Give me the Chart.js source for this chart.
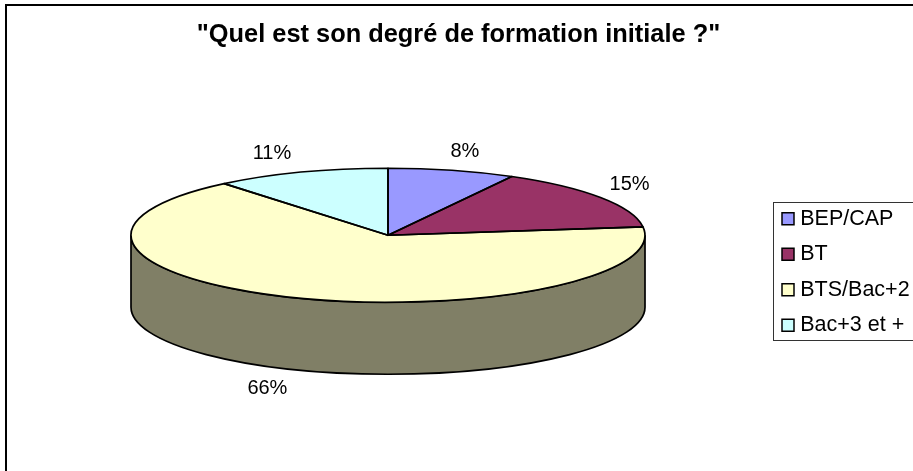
<!DOCTYPE html>
<html>
<head>
<meta charset="utf-8">
<style>
  html, body { margin: 0; padding: 0; background: #fff; overflow: hidden; }
  canvas { display: block; }
</style>
<script src="https://cdn.jsdelivr.net/npm/chart.js@4"></script>
</head>
<body>
<canvas id="myChart" width="913" height="471"></canvas>
<script>
const chartTitle = '"Quel est son degré de formation initiale ?"';
const categories = ["BEP/CAP", "BT", "BTS/Bac+2", "Bac+3 et +"];
const values = [8, 15, 66, 11];
const percentLabels = ["8%", "15%", "66%", "11%"];
const sliceColors = ["#9999FF", "#993366", "#FFFFCC", "#CCFFFF"];
const sideColors = ["#4D4D80", "#4D1A33", "#807F66", "#668080"];

// flattening of the pie and height of its wall
const tilt = 67 / 257;
const depth = 72;
// label nudges from the rim, in slice order
const labelNudge = [[13, -19], [29, -13], [-26, 91], [-29, -19]];

const fontFamily = '"Liberation Sans", Arial, sans-serif';
Chart.defaults.font.family = fontFamily;
Chart.defaults.color = "#000";

const pie3d = {
  id: "pie3d",
  beforeDraw(chart) {
    const ctx = chart.ctx;
    ctx.save();
    ctx.fillStyle = "#fff";
    ctx.fillRect(0, 0, chart.width, chart.height);
    ctx.strokeStyle = "#000";
    ctx.lineWidth = 2;
    ctx.strokeRect(6, 5, chart.width + 20, chart.height + 20);
    ctx.lineWidth = 1;
    ctx.strokeStyle = "#333";
    ctx.strokeRect(773.5, 202.5, 200, 138);
    ctx.restore();
  },
  afterLayout(chart) {
    // legend box sits lower than the chart middle
    const legend = chart.legend;
    const w = legend.width;
    const h = legend.height;
    legend.left = 772.5;
    legend.right = legend.left + w;
    legend.top = 194;
    legend.bottom = legend.top + h;
    // title is centred on the whole frame, not on the pie
    chart.titleBlock.left = 0;
    chart.titleBlock.right = 917;
  },
  beforeDatasetsDraw(chart) {
    const ctx = chart.ctx;
    const arcs = chart.getDatasetMeta(0).data;
    // wall first, only the front half of the rim shows
    arcs.forEach((arc, i) => {
      const from = Math.max(arc.startAngle, 0);
      const to = Math.min(arc.endAngle, Math.PI);
      if (to <= from) return;
      const r = arc.outerRadius;
      ctx.save();
      ctx.beginPath();
      ctx.ellipse(arc.x, arc.y, r, r * tilt, 0, from, to);
      ctx.ellipse(arc.x, arc.y + depth, r, r * tilt, 0, to, from, true);
      ctx.closePath();
      ctx.fillStyle = sideColors[i];
      ctx.fill();
      ctx.strokeStyle = "#000";
      ctx.lineWidth = 1.7;
      ctx.stroke();
      ctx.restore();
    });
    const first = arcs[0];
    ctx.save();
    ctx.translate(first.x, first.y);
    ctx.scale(1, tilt);
    ctx.translate(-first.x, -first.y);
  },
  afterDatasetsDraw(chart) {
    const ctx = chart.ctx;
    ctx.restore();
    const arcs = chart.getDatasetMeta(0).data;
    arcs.forEach((arc, i) => {
      const r = arc.outerRadius;
      ctx.save();
      ctx.beginPath();
      ctx.moveTo(arc.x, arc.y);
      ctx.ellipse(arc.x, arc.y, r, r * tilt, 0, arc.startAngle, arc.endAngle);
      ctx.closePath();
      ctx.strokeStyle = "#000";
      ctx.lineWidth = 1.7;
      ctx.lineJoin = "round";
      ctx.stroke();
      ctx.restore();

      const mid = (arc.startAngle + arc.endAngle) / 2;
      const x = arc.x + r * Math.cos(mid) + labelNudge[i][0];
      const y = arc.y + r * tilt * Math.sin(mid) + labelNudge[i][1];
      ctx.save();
      ctx.fillStyle = "#000";
      ctx.font = "20px " + fontFamily;
      ctx.textAlign = "center";
      ctx.textBaseline = "middle";
      ctx.fillText(percentLabels[i], x, y);
      ctx.restore();
    });
  },
};

const defaultLabels = Chart.overrides.pie.plugins.legend.labels.generateLabels;

new Chart(document.getElementById("myChart").getContext("2d"), {
  type: "pie",
  data: {
    labels: categories,
    datasets: [
      {
        data: values,
        backgroundColor: sliceColors,
        borderWidth: 0,
      },
    ],
  },
  options: {
    responsive: false,
    animation: false,
    radius: 257,
    layout: {
      padding: { left: 0, right: 137, top: 0, bottom: 73 },
    },
    plugins: {
      title: {
        display: true,
        text: chartTitle,
        color: "#000",
        font: { size: 25.4, weight: "bold" },
        padding: { top: 20, bottom: 22 },
      },
      legend: {
        position: "chartArea",
        align: "start",
        labels: {
          // narrow layout box keeps the text close to the swatch
          usePointStyle: true,
          pointStyle: "rect",
          boxWidth: 3,
          boxHeight: 12,
          padding: 14,
          color: "#000",
          font: { size: 21.5 },
          generateLabels(chart) {
            return defaultLabels(chart).map((item) => {
              item.strokeStyle = "#000";
              item.lineWidth = 1.5;
              item.pointStyle = "rect";
              return item;
            });
          },
        },
      },
      tooltip: { enabled: false },
    },
  },
  plugins: [pie3d],
});
</script>
</body>
</html>
